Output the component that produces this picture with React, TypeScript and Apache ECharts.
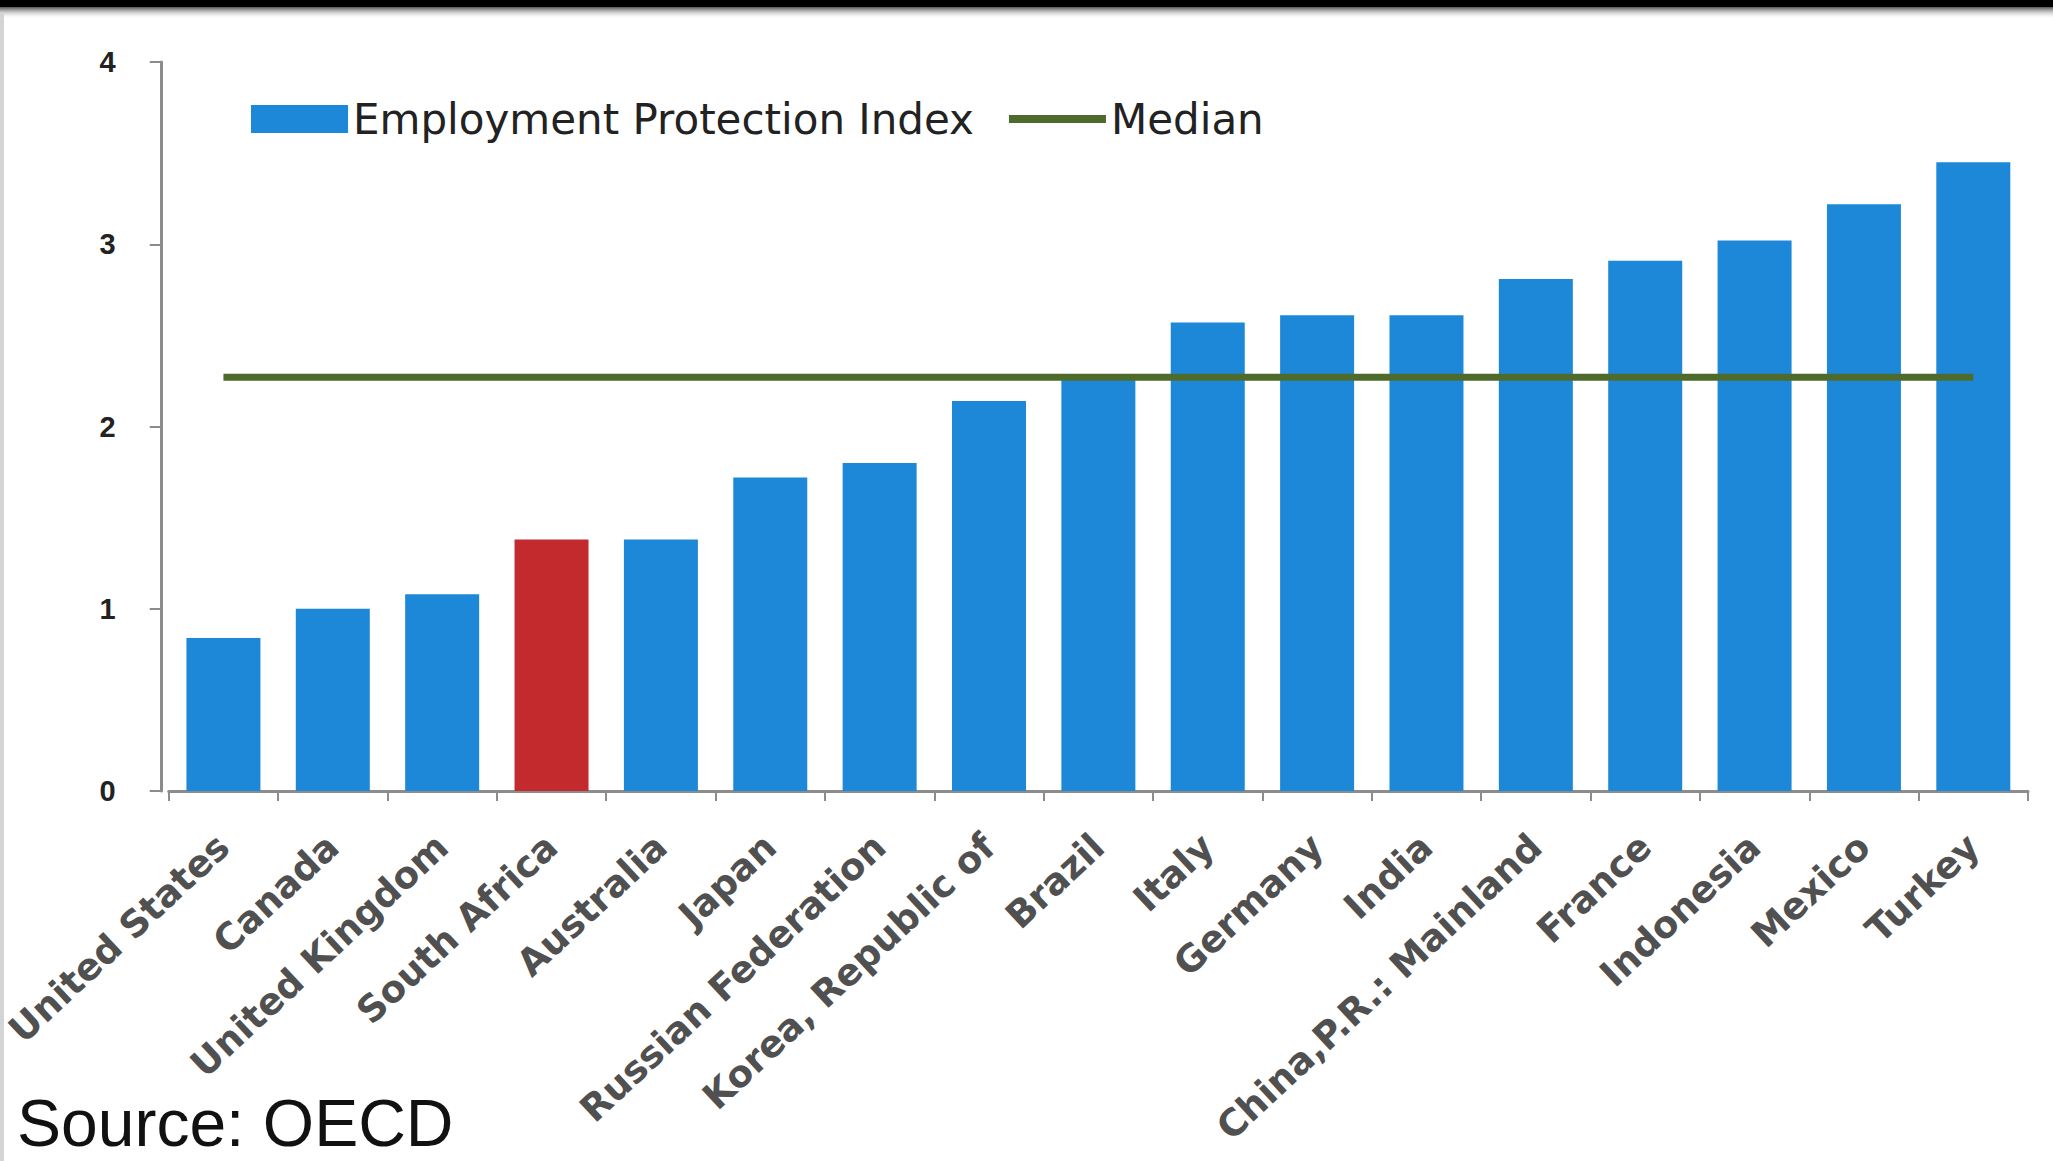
import React, { useEffect, useRef } from "react";
import * as echarts from "echarts";

const categories = [
  "United States",
  "Canada",
  "United Kingdom",
  "South Africa",
  "Australia",
  "Japan",
  "Russian Federation",
  "Korea, Republic of",
  "Brazil",
  "Italy",
  "Germany",
  "India",
  "China,P.R.: Mainland",
  "France",
  "Indonesia",
  "Mexico",
  "Turkey",
];

const indexValues = [
  0.84, 1.0, 1.08, 1.38, 1.38, 1.72, 1.8, 2.14, 2.27, 2.57, 2.61, 2.61, 2.81, 2.91, 3.02, 3.22, 3.45,
];

const medianValue = 2.27;
const highlighted = "South Africa";

const yTicks = [0, 1, 2, 3, 4];

const barName = "Employment Protection Index";
const lineName = "Median";
const sourceText = "Source: OECD";

const BLUE = "#1E88D8";
const RED = "#C22A2E";
const GREEN = "#4F6B2C";
const AXIS = "#8c8c8c";

export default function App() {
  const ref = useRef<HTMLDivElement>(null);

  useEffect(() => {
    if (!ref.current) return;
    const chart = echarts.init(ref.current, null, { renderer: "svg" });
    const option = {
      animation: false,
      backgroundColor: "#ffffff",
      grid: { left: 167, right: 25, top: 62, bottom: 370 },
      legend: {
        left: 246,
        top: 93,
        itemWidth: 97,
        itemHeight: 28,
        itemGap: 35,
        symbolKeepAspect: true,
        textStyle: { fontFamily: "DejaVu Sans", fontSize: 42, color: "#222" },
        data: [
          { name: barName, icon: "rect" },
          { name: lineName, icon: "path://M0,0 H100 V8 H0 Z", itemStyle: { color: GREEN } },
        ],
      },
      xAxis: {
        type: "category",
        data: categories,
        boundaryGap: true,
        axisLine: { show: true, lineStyle: { color: AXIS, width: 3 } },
        axisTick: { show: true, length: 10, lineStyle: { color: AXIS, width: 2 } },
        axisLabel: {
          interval: 0,
          rotate: 43,
          margin: 50,
          fontFamily: "DejaVu Sans",
          fontWeight: "bold",
          fontSize: 37,
          color: "#505050",
        },
      },
      yAxis: {
        type: "value",
        min: yTicks[0],
        max: yTicks[yTicks.length - 1],
        interval: 1,
        offset: 7,
        splitLine: { show: false },
        axisLine: { show: true, lineStyle: { color: AXIS, width: 3 } },
        axisTick: { show: true, length: 12, lineStyle: { color: AXIS, width: 2 } },
        axisLabel: {
          margin: 46,
          fontFamily: "Liberation Sans",
          fontWeight: "bold",
          fontSize: 29,
          color: "#222",
        },
      },
      series: [
        {
          name: barName,
          type: "bar",
          barWidth: 74,
          itemStyle: { color: BLUE },
          data: indexValues.map((v, i) =>
            categories[i] === highlighted ? { value: v, itemStyle: { color: RED } } : v
          ),
        },
        {
          name: lineName,
          type: "line",
          symbol: "none",
          showSymbol: false,
          lineStyle: { color: GREEN, width: 7 },
          itemStyle: { color: GREEN },
          data: categories.map(() => medianValue),
          z: 5,
        },
      ],
      graphic: [
        {
          type: "rect",
          left: 0,
          top: 0,
          shape: { width: 2053, height: 7 },
          style: { fill: "#000" },
          z: 100,
        },
        {
          type: "rect",
          left: 0,
          top: 7,
          shape: { width: 2053, height: 12 },
          style: {
            fill: new echarts.graphic.LinearGradient(0, 0, 0, 1, [
              { offset: 0, color: "#555" },
              { offset: 1, color: "rgba(255,255,255,0)" },
            ]),
          },
          z: 100,
        },
        {
          type: "rect",
          left: 0,
          top: 12,
          shape: { width: 4, height: 1149 },
          style: { fill: "#d4d4d4" },
          z: 100,
        },
        {
          type: "text",
          x: 17,
          y: 1099,
          style: {
            text: sourceText,
            fontFamily: "Liberation Sans",
            fontSize: 66,
            lineHeight: 48,
            fill: "#111",
            verticalAlign: "top",
            align: "left",
          },
          z: 100,
        },
      ],
    };
    chart.setOption(option);
    return () => chart.dispose();
  }, []);

  return (
    <div
      ref={ref}
      style={{ position: "fixed", left: 0, top: 0, width: 2053, height: 1161, background: "#fff" }}
    />
  );
}
